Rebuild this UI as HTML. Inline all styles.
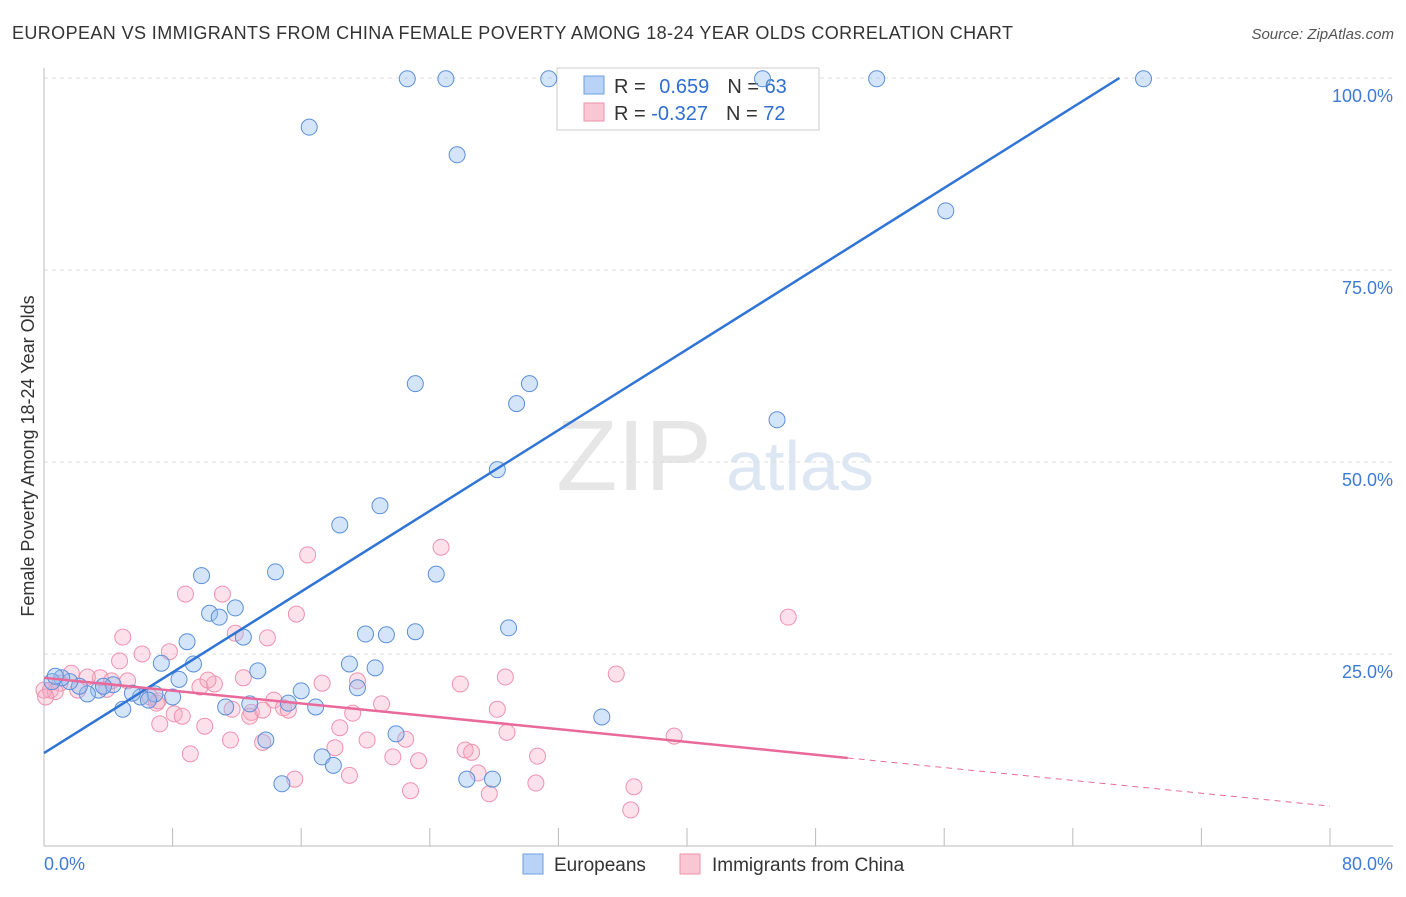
<!DOCTYPE html>
<html><head><meta charset="utf-8"><style>
body{margin:0;background:#fff;font-family:"Liberation Sans",sans-serif}
svg text{font-family:"Liberation Sans",sans-serif}
</style></head><body>
<svg id="c" width="1406" height="892">
<text x="12" y="39" font-size="18" fill="#333" textLength="1001">EUROPEAN VS IMMIGRANTS FROM CHINA FEMALE POVERTY AMONG 18-24 YEAR OLDS CORRELATION CHART</text>
<text x="1394" y="39" font-size="15" fill="#555" text-anchor="end" font-style="italic">Source: ZipAtlas.com</text>
<text x="634" y="490" font-size="100" fill="#e6e6e6" font-family="Liberation Serif" text-anchor="middle">ZIP</text>
<text x="800" y="490" font-size="70" fill="#dde6f3" text-anchor="middle">atlas</text>
<text transform="translate(34,456) rotate(-90)" font-size="18" fill="#333" text-anchor="middle">Female Poverty Among 18-24 Year Olds</text>
<g id="grid"></g>
<g>
<rect x="557" y="68" width="262" height="62" fill="#fff" stroke="#ccc"/>
<rect x="584" y="76" width="20" height="18" fill="#b8d3f5" stroke="#6e9fe0"/>
<rect x="584" y="103" width="20" height="18" fill="#f9c6d4" stroke="#ee92ad"/>
<text x="614" y="93" font-size="20" fill="#333">R = <tspan fill="#2f6fd0" dx="8">0.659</tspan><tspan dx="18" fill="#333">N = </tspan><tspan fill="#2f6fd0">63</tspan></text>
<text x="614" y="120" font-size="20" fill="#333">R = <tspan fill="#2f6fd0">-0.327</tspan><tspan dx="18" fill="#333">N = </tspan><tspan fill="#2f6fd0">72</tspan></text>
</g>
<g id="pts"></g><g id="lines"></g>
<g>
<rect x="523" y="854" width="20" height="20" fill="#b8d3f5" stroke="#6e9fe0"/>
<text x="554" y="871" font-size="19" fill="#333">Europeans</text>
<rect x="680" y="854" width="20" height="20" fill="#f9c6d4" stroke="#ee92ad"/>
<text x="712" y="871" font-size="19" fill="#333">Immigrants from China</text>
</g>
</svg>
<script>
const yTicks=[25,50,75,100];
const xTickLabels=["0.0%","80.0%"];
const bluePx=[[407,79],[446,79],[548,79],[762,79],[877,79],[1143,79],[309,127],[457,155],[946,211],[415,384],[530,384],[517,404],[777,420],[498,470],[380,506],[340,525],[275,572],[202,576],[437,574],[236,608],[210,613],[220,617],[187,642],[243,637],[509,628],[365,634],[387,635],[416,632],[350,664],[375,668],[194,664],[162,663],[258,671],[179,679],[358,688],[301,691],[289,703],[316,707],[250,704],[226,707],[172,697],[155,694],[140,697],[133,693],[113,685],[122,709],[98,690],[88,694],[80,686],[70,682],[62,678],[52,682],[55,676],[103,686],[396,734],[266,740],[322,757],[333,765],[467,779],[493,779],[282,784],[601,717],[148,700]];
const pinkPx=[[307,555],[441,547],[789,617],[186,594],[222,594],[296,614],[236,633],[268,638],[123,637],[169,652],[142,654],[120,661],[617,674],[506,677],[460,684],[322,683],[358,681],[244,678],[215,684],[200,687],[208,680],[128,681],[100,678],[88,677],[72,673],[60,683],[50,690],[56,692],[78,690],[106,689],[112,681],[150,697],[156,703],[274,700],[283,708],[252,712],[289,710],[382,704],[353,713],[497,709],[250,716],[174,714],[183,716],[159,724],[205,726],[340,728],[507,732],[230,740],[263,742],[405,739],[335,748],[465,750],[472,752],[538,756],[674,736],[191,754],[393,757],[418,761],[478,773],[294,779],[349,775],[536,783],[410,791],[634,787],[490,794],[630,810],[262,710],[158,701],[232,709],[44,690],[46,697],[367,740]];
const blueX=bluePx.map(p=>+((p[0]-44)/16.075).toFixed(1)), blueY=bluePx.map(p=>+((846-p[1])/7.68).toFixed(1));
const pinkX=pinkPx.map(p=>+((p[0]-44)/16.075).toFixed(1)), pinkY=pinkPx.map(p=>+((846-p[1])/7.68).toFixed(1));
const blueTrend=[12.1,100,0,66.9], pinkTrend=[21.9,5.2,50];
const X=v=>44+v*16.075, Y=v=>846-v*7.68;
const NS="http://www.w3.org/2000/svg";
function mk(parent,tag,attrs){const e=document.createElementNS(NS,tag);for(const k in attrs)e.setAttribute(k,attrs[k]);document.getElementById(parent).appendChild(e);return e;}
let e;
for(const t of yTicks){
 e=mk('grid','line',{x1:44,x2:1393,y1:Y(t),y2:Y(t),stroke:'#ddd','stroke-dasharray':'4,4'});
 
 
 e=mk('grid','text',{x:1393,y:Y(t)+24,'font-size':18,fill:'#3d7bd6','text-anchor':'end'});e.textContent=t.toFixed(1)+'%';
 
 
}
e=mk('grid','line',{x1:44,x2:1393,y1:846,y2:846,stroke:'#bbb'});


e=mk('grid','line',{x1:44,x2:44,y1:68,y2:846,stroke:'#bbb'});


for(let i=0;i<=10;i++){e=mk('grid','line',{x1:X(i*8),x2:X(i*8),y1:828,y2:846,stroke:'#bbb'});
 
 }
e=mk('grid','text',{x:44,y:870,'font-size':18,fill:'#3d7bd6'});e.textContent=xTickLabels[0];


e=mk('grid','text',{x:1393,y:870,'font-size':18,fill:'#3d7bd6','text-anchor':'end'});e.textContent=xTickLabels[1];


pinkX.forEach((x,i)=>{e=mk('pts','circle',{cx:X(x),cy:Y(pinkY[i]),r:8,fill:'rgba(246,170,195,0.35)',stroke:'#ee92ad','stroke-width':1});
 
 });
blueX.forEach((x,i)=>{e=mk('pts','circle',{cx:X(x),cy:Y(blueY[i]),r:8,fill:'rgba(150,190,240,0.4)',stroke:'#5b8fd8','stroke-width':1});
 
 });
e=mk('lines','line',{x1:X(0),y1:Y(blueTrend[0]),x2:X(blueTrend[3]),y2:Y(blueTrend[1]),stroke:'#2f74d6','stroke-width':2.5});


const pm=(pinkTrend[1]-pinkTrend[0])/80;
e=mk('lines','line',{x1:X(0),y1:Y(pinkTrend[0]),x2:X(pinkTrend[2]),y2:Y(pinkTrend[0]+pm*pinkTrend[2]),stroke:'#e8699a','stroke-width':2.5});


e=mk('lines','line',{x1:X(pinkTrend[2]),y1:Y(pinkTrend[0]+pm*pinkTrend[2]),x2:X(80),y2:Y(pinkTrend[1]),stroke:'#e8699a','stroke-width':1,'stroke-dasharray':'6,5'});


</script>
</body></html>
